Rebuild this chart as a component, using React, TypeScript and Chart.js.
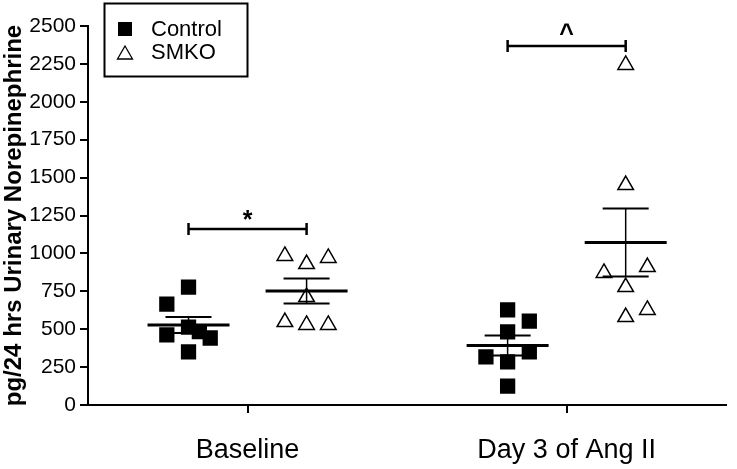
import React, { useEffect, useRef } from "react";
import { Chart, registerables } from "chart.js";

Chart.register(...registerables);

// ---- data ----
const CATEGORIES = ["Baseline", "Day 3 of Ang II"];
const SERIES = ["Control", "SMKO"];
const Y_TITLE = "pg/24 hrs Urinary Norepinephrine";
const Y_MIN = 0;
const Y_MAX = 2500;
const Y_STEP = 250;

const CONTROL_BASELINE = [778, 666, 514, 484, 442, 462, 350];
const CONTROL_DAY3 = [627, 554, 482, 317, 350, 284, 125];
const SMKO_BASELINE = [983, 930, 970, 712, 547, 528, 528];
const SMKO_DAY3 = [2243, 1451, 910, 871, 778, 627, 580];

const CONTROL_MEAN = [528, 393];
const CONTROL_SEM = [53, 66];
const SMKO_MEAN = [752, 1072];
const SMKO_SEM = [82, 224];

const SIG_Y = [1161, 2368];
const SIG_MARK = ["*", "^"];

// ---- layout (horizontal scatter slots, not data) ----
const GROUP_OFFSET = 0.185;
const JITTER_STEP = 0.068;
const SLOTS_CONTROL = [
  [0, -1, 0, 0.5, 1, -1, 0],
  [0, 1, 0, -1, 1, 0, 0],
];
const SLOTS_SMKO = [
  [-1, 0, 1, 0, -1, 0, 1],
  [0, 0, 1, -1, 0, 1, 0],
];

const FONT = "'Liberation Sans', Arial, Helvetica, sans-serif";

function toPoints(groups: number[][], slots: number[][], side: number) {
  const pts: { x: number; y: number }[] = [];
  groups.forEach((vals, ci) => {
    vals.forEach((v, k) => {
      pts.push({ x: ci + side * GROUP_OFFSET + slots[ci][k] * JITTER_STEP, y: v });
    });
  });
  return pts;
}

const overlayPlugin = {
  id: "overlay",
  afterDatasetsDraw(chart: any) {
    const ctx = chart.ctx as CanvasRenderingContext2D;
    const xs = chart.scales.x;
    const ys = chart.scales.y;
    const line = (x1: number, y1: number, x2: number, y2: number) => {
      ctx.beginPath();
      ctx.moveTo(x1, y1);
      ctx.lineTo(x2, y2);
      ctx.stroke();
    };
    ctx.save();
    ctx.strokeStyle = "#000";
    ctx.fillStyle = "#000";
    const groups = [
      { mean: CONTROL_MEAN, sem: CONTROL_SEM, side: -1 },
      { mean: SMKO_MEAN, sem: SMKO_SEM, side: 1 },
    ];
    CATEGORIES.forEach((_, i) => {
      groups.forEach((g) => {
        const cx = xs.getPixelForValue(i + g.side * GROUP_OFFSET);
        const ym = ys.getPixelForValue(g.mean[i]);
        const yu = ys.getPixelForValue(g.mean[i] + g.sem[i]);
        const yl = ys.getPixelForValue(g.mean[i] - g.sem[i]);
        ctx.lineWidth = 1.5;
        line(cx, yu, cx, yl);
        ctx.lineWidth = 2;
        line(cx - 23, yu, cx + 23, yu);
        line(cx - 23, yl, cx + 23, yl);
        ctx.lineWidth = 3;
        line(cx - 41, ym, cx + 41, ym);
      });
      const x1 = xs.getPixelForValue(i - GROUP_OFFSET);
      const x2 = xs.getPixelForValue(i + GROUP_OFFSET);
      const yb = ys.getPixelForValue(SIG_Y[i]);
      ctx.lineWidth = 2.5;
      line(x1, yb, x2, yb);
      line(x1, yb - 6, x1, yb + 6);
      line(x2, yb - 6, x2, yb + 6);
      ctx.font = `bold 25px ${FONT}`;
      ctx.textAlign = "center";
      ctx.textBaseline = "alphabetic";
      ctx.fillText(SIG_MARK[i], (x1 + x2) / 2, yb - (i === 0 ? 1 : 4));
    });

    // legend box
    const left = chart.chartArea.left + 16;
    const top = 3;
    const w = 143;
    const h = 73;
    ctx.lineWidth = 2;
    ctx.strokeRect(left + 0.5, top + 0.5, w, h);
    ctx.font = `22px ${FONT}`;
    ctx.textAlign = "left";
    ctx.textBaseline = "middle";
    const mx = left + 21;
    // control square
    ctx.fillRect(mx - 7, 29 - 7, 14, 14);
    ctx.fillText(SERIES[0], left + 47, 30);
    // smko triangle
    ctx.lineWidth = 1.3;
    ctx.beginPath();
    ctx.moveTo(mx, 46);
    ctx.lineTo(mx + 7.5, 59);
    ctx.lineTo(mx - 7.5, 59);
    ctx.closePath();
    ctx.stroke();
    ctx.fillText(SERIES[1], left + 47, 53);
    ctx.restore();
  },
};

export default function App() {
  const ref = useRef<HTMLCanvasElement | null>(null);

  useEffect(() => {
    if (!ref.current) return;
    Chart.defaults.font.family = FONT;
    Chart.defaults.color = "#000";
    const chart = new Chart(ref.current, {
      type: "scatter",
      data: {
        datasets: [
          {
            label: SERIES[0],
            data: toPoints([CONTROL_BASELINE, CONTROL_DAY3], SLOTS_CONTROL, -1),
            pointStyle: "rect",
            pointRadius: 10.8,
            pointHoverRadius: 10.8,
            backgroundColor: "#000",
            borderColor: "#000",
            borderWidth: 0,
          },
          {
            label: SERIES[1],
            data: toPoints([SMKO_BASELINE, SMKO_DAY3], SLOTS_SMKO, 1),
            pointStyle: "triangle",
            pointRadius: 9,
            pointHoverRadius: 9,
            backgroundColor: "#fff",
            borderColor: "#000",
            borderWidth: 1.5,
          },
        ],
      },
      options: {
        animation: false,
        responsive: false,
        devicePixelRatio: 1,
        layout: { padding: { top: 26, right: 2, left: 0, bottom: 0 } },
        plugins: {
          legend: { display: false },
          tooltip: { enabled: false },
        },
        scales: {
          x: {
            type: "linear",
            min: -0.5,
            max: 1.5,
            afterBuildTicks: (s: any) => {
              s.ticks = CATEGORIES.map((_, i) => ({ value: i }));
            },
            afterFit: (s: any) => {
              s.height = 64;
            },
            ticks: {
              callback: (v: any) => CATEGORIES[Math.round(Number(v))],
              font: { size: 27 },
              color: "#000",
              padding: 21,
              maxRotation: 0,
              autoSkip: false,
            },
            grid: {
              display: true,
              drawOnChartArea: false,
              drawTicks: true,
              tickLength: 8,
              color: "#000",
              lineWidth: 2,
            },
            border: { display: true, color: "#000", width: 2 },
          },
          y: {
            type: "linear",
            min: Y_MIN,
            max: Y_MAX,
            afterFit: (s: any) => {
              s.width = 88;
            },
            ticks: {
              stepSize: Y_STEP,
              callback: (v: any) => String(v),
              font: { size: 21 },
              color: "#000",
              padding: 4,
            },
            grid: {
              display: true,
              drawOnChartArea: false,
              drawTicks: true,
              tickLength: 8,
              color: "#000",
              lineWidth: 2,
            },
            border: { display: true, color: "#000", width: 2 },
            title: {
              display: true,
              text: Y_TITLE,
              color: "#000",
              font: { size: 24, weight: "bold" },
              padding: { top: 0, bottom: 0 },
            },
          },
        },
      },
      plugins: [overlayPlugin],
    } as any);
    return () => chart.destroy();
  }, []);

  return (
    <div style={{ position: "absolute", left: 0, top: 0, width: 737, height: 469, background: "#fff" }}>
      <canvas ref={ref} width={737} height={469} style={{ display: "block" }} />
    </div>
  );
}
